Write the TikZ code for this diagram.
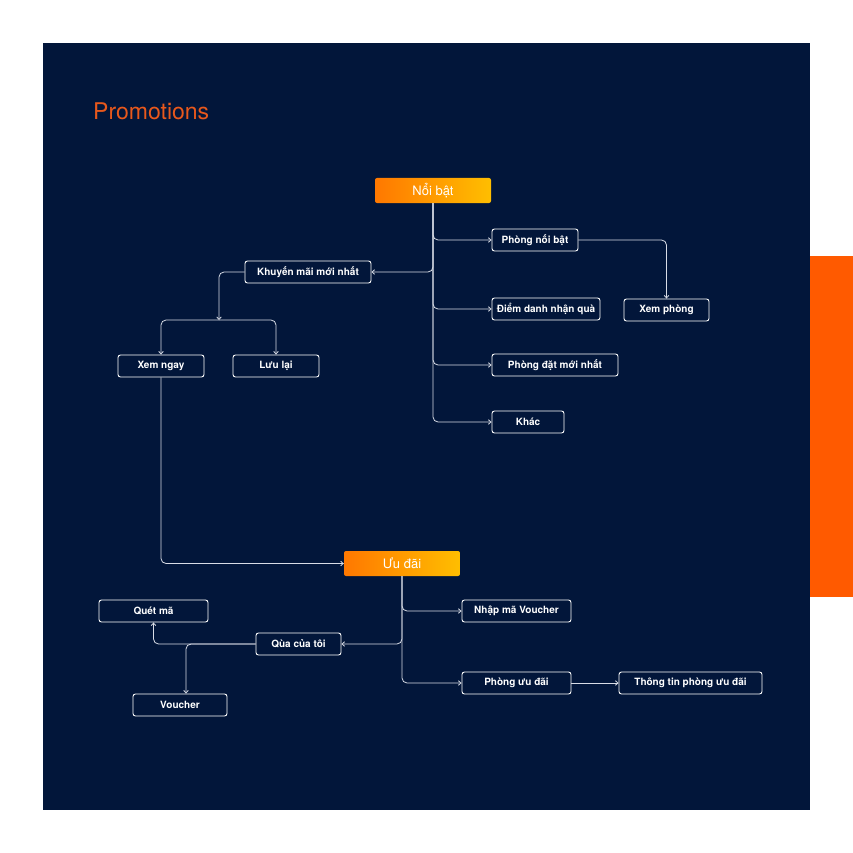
\documentclass[tikz,border=0pt]{standalone}
\usepackage{fontspec}
\setmainfont{TeX Gyre Heros}
\usetikzlibrary{arrows.meta}
\definecolor{navy}{HTML}{02163A}
\definecolor{promo}{HTML}{E8581C}
\definecolor{sidebar}{HTML}{FF5A00}
\definecolor{orangeL}{HTML}{FF7800}
\definecolor{orangeR}{HTML}{FFBE00}
\definecolor{linkgray}{HTML}{D8DCE6}
\begin{document}
\begin{tikzpicture}[x=1pt,y=-1pt,
		box/.style={draw=white,line width=0.9pt,rounded corners=2.5pt,fill=navy,text=white,font=\fontsize{10}{12}\selectfont\bfseries,minimum height=22pt,inner sep=0pt},
		head/.style={rounded corners=2pt,left color=orangeL,right color=orangeR,text=white,font=\fontsize{13}{15}\selectfont,minimum width=116pt,minimum height=25pt,inner sep=0pt},
		link/.style={draw=linkgray,line width=0.8pt,rounded corners=5pt,->},
		>={Straight Barb[length=2.5pt,width=4.5pt]}]
		\useasboundingbox (0,0) rectangle (853,853);
		\fill[white] (0,0) rectangle (853,853);
		\fill[navy] (43,43) rectangle (810,810);
		\fill[sidebar] (810,256) rectangle (853,597);
		\node[anchor=west, inner sep=0pt, text=promo, font=\fontsize{23}{27}\selectfont] (title) at (93,111) {Promotions};
		% first tree
		\node[head] (nb) at (433,190.5) {Nổi bật};
		\node[box, minimum width=86pt] (pnb) at (535,240) {Phòng nối bật};
		\node[box, minimum width=126pt] (km) at (308,272) {Khuyến mãi mới nhất};
		\node[box, minimum width=108pt] (dd) at (546,309) {Điểm danh nhận quà};
		\node[box, minimum width=85pt] (xp) at (666.5,310) {Xem phòng};
		\node[box, minimum width=126pt] (pd) at (555,365) {Phòng đặt mới nhất};
		\node[box, minimum width=72pt] (kh) at (528,422) {Khác};
		\node[box, minimum width=86pt] (xn) at (161,366) {Xem ngay};
		\node[box, minimum width=86pt] (ll) at (276,366) {Lưu lại};
		\coordinate (split) at (219,320);
		% second tree
		\node[head] (ud) at (402,563.5) {Ưu đãi};
		\node[box, minimum width=109pt] (nmv) at (516.5,611) {Nhập mã Voucher};
		\node[box, minimum width=109pt] (qm) at (153.5,611) {Quét mã};
		\node[box, minimum width=85pt] (qct) at (298.5,644) {Qùa của tôi};
		\node[box, minimum width=94pt] (vc) at (180,705) {Voucher};
		\node[box, minimum width=109pt] (pud) at (516.5,683) {Phòng ưu đãi};
		\node[box, minimum width=143pt] (tt) at (690.5,683) {Thông tin phòng ưu đãi};
		% connectors
		\draw[link] (nb.south) |- (pnb.west);
		\draw[link] (nb.south) |- (km.east);
		\draw[link] (nb.south) |- (dd.west);
		\draw[link] (nb.south) |- (pd.west);
		\draw[link] (nb.south) |- (kh.west);
		\draw[link] (pnb.east) -| (xp.north);
		\draw[link] (km.west) -| (split);
		\draw[link] (split) -| (xn.north);
		\draw[link] (split) -| (ll.north);
		\draw[link] (xn.south) |- (ud.west);
		\draw[link] (ud.south) |- (nmv.west);
		\draw[link] (ud.south) |- (qct.east);
		\draw[link] (ud.south) |- (pud.west);
		\draw[link] (pud.east) -- (tt.west);
		\draw[link] (qct.west) -| (qm.south);
		\draw[link] (qct.west) -| ([xshift=6pt]vc.north);
\end{tikzpicture}
\end{document}
